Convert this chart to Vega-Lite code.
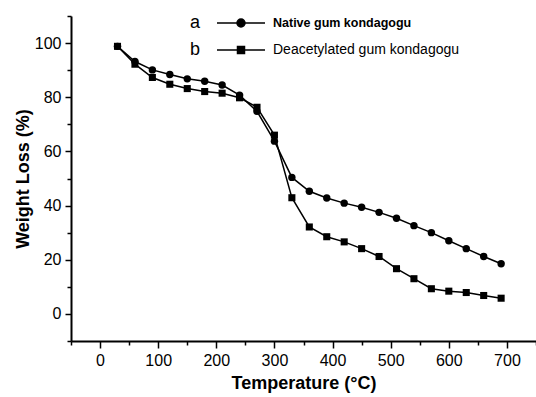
{
  "$schema": "https://vega.github.io/schema/vega-lite/v6.json",
  "width": 465,
  "height": 325,
  "autosize": {"type": "none"},
  "padding": {"left": 71, "top": 16, "right": 0, "bottom": 56},
  "background": "white",
  "config": {
    "view": {"stroke": null},
    "font": "Liberation Sans",
    "axis": {"grid": false, "domainColor": "black", "domainWidth": 2, "tickColor": "black", "tickWidth": 1.5, "labelColor": "black", "titleColor": "black", "labelFont": "Liberation Sans", "titleFont": "Liberation Sans"}
  },
  "data": {"values": [
    {"temperature": 30, "series": "Native gum kondagogu", "weight": 98.8},
    {"temperature": 60, "series": "Native gum kondagogu", "weight": 93.2},
    {"temperature": 90, "series": "Native gum kondagogu", "weight": 90.1},
    {"temperature": 120, "series": "Native gum kondagogu", "weight": 88.4},
    {"temperature": 150, "series": "Native gum kondagogu", "weight": 86.8},
    {"temperature": 180, "series": "Native gum kondagogu", "weight": 85.9},
    {"temperature": 210, "series": "Native gum kondagogu", "weight": 84.5},
    {"temperature": 240, "series": "Native gum kondagogu", "weight": 80.8},
    {"temperature": 270, "series": "Native gum kondagogu", "weight": 74.8},
    {"temperature": 300, "series": "Native gum kondagogu", "weight": 63.8},
    {"temperature": 330, "series": "Native gum kondagogu", "weight": 50.4},
    {"temperature": 360, "series": "Native gum kondagogu", "weight": 45.3},
    {"temperature": 390, "series": "Native gum kondagogu", "weight": 42.8},
    {"temperature": 420, "series": "Native gum kondagogu", "weight": 40.9},
    {"temperature": 450, "series": "Native gum kondagogu", "weight": 39.4},
    {"temperature": 480, "series": "Native gum kondagogu", "weight": 37.5},
    {"temperature": 510, "series": "Native gum kondagogu", "weight": 35.3},
    {"temperature": 540, "series": "Native gum kondagogu", "weight": 32.6},
    {"temperature": 570, "series": "Native gum kondagogu", "weight": 30.0},
    {"temperature": 600, "series": "Native gum kondagogu", "weight": 27.0},
    {"temperature": 630, "series": "Native gum kondagogu", "weight": 24.1},
    {"temperature": 660, "series": "Native gum kondagogu", "weight": 21.2},
    {"temperature": 690, "series": "Native gum kondagogu", "weight": 18.5},
    {"temperature": 30, "series": "Deacetylated gum kondagogu", "weight": 98.8},
    {"temperature": 60, "series": "Deacetylated gum kondagogu", "weight": 92.2},
    {"temperature": 90, "series": "Deacetylated gum kondagogu", "weight": 87.3},
    {"temperature": 120, "series": "Deacetylated gum kondagogu", "weight": 84.8},
    {"temperature": 150, "series": "Deacetylated gum kondagogu", "weight": 83.2},
    {"temperature": 180, "series": "Deacetylated gum kondagogu", "weight": 82.1},
    {"temperature": 210, "series": "Deacetylated gum kondagogu", "weight": 81.5},
    {"temperature": 240, "series": "Deacetylated gum kondagogu", "weight": 79.8},
    {"temperature": 270, "series": "Deacetylated gum kondagogu", "weight": 76.3},
    {"temperature": 300, "series": "Deacetylated gum kondagogu", "weight": 66.0},
    {"temperature": 330, "series": "Deacetylated gum kondagogu", "weight": 42.9},
    {"temperature": 360, "series": "Deacetylated gum kondagogu", "weight": 32.1},
    {"temperature": 390, "series": "Deacetylated gum kondagogu", "weight": 28.5},
    {"temperature": 420, "series": "Deacetylated gum kondagogu", "weight": 26.6},
    {"temperature": 450, "series": "Deacetylated gum kondagogu", "weight": 24.1},
    {"temperature": 480, "series": "Deacetylated gum kondagogu", "weight": 21.2},
    {"temperature": 510, "series": "Deacetylated gum kondagogu", "weight": 16.7},
    {"temperature": 540, "series": "Deacetylated gum kondagogu", "weight": 13.0},
    {"temperature": 570, "series": "Deacetylated gum kondagogu", "weight": 9.3},
    {"temperature": 600, "series": "Deacetylated gum kondagogu", "weight": 8.4},
    {"temperature": 630, "series": "Deacetylated gum kondagogu", "weight": 7.9},
    {"temperature": 660, "series": "Deacetylated gum kondagogu", "weight": 6.8},
    {"temperature": 690, "series": "Deacetylated gum kondagogu", "weight": 5.8}
  ]},
  "resolve": {"axis": {"x": "independent", "y": "independent"}},
  "layer": [
    {
      "mark": {"type": "line", "strokeWidth": 1.5},
      "encoding": {
        "x": {"field": "temperature", "type": "quantitative", "scale": {"domain": [-50, 750], "nice": false, "zero": false},
          "axis": {"orient": "bottom", "values": [0, 100, 200, 300, 400, 500, 600, 700], "tickSize": 7, "labelFontSize": 16, "labelPadding": 4, "title": "Temperature (°C)", "titleFontSize": 18, "titleFontWeight": "bold", "titlePadding": 6}},
        "y": {"field": "weight", "type": "quantitative", "scale": {"domain": [-10, 110], "nice": false, "zero": false},
          "axis": {"orient": "left", "values": [0, 20, 40, 60, 80, 100], "tickSize": 6, "labelFontSize": 16, "labelPadding": 4, "title": "Weight Loss (%)", "titleFontSize": 18, "titleFontWeight": "bold", "titlePadding": 2}},
        "color": {"field": "series", "type": "nominal",
          "scale": {"domain": ["Native gum kondagogu", "Deacetylated gum kondagogu"], "range": ["black", "black"]},
          "legend": {
            "orient": "none", "legendX": 119, "legendY": 0,
            "title": ["a", "b"], "titleOrient": "left", "titleFontSize": 18, "titleFontWeight": "normal", "titleLineHeight": 27, "titlePadding": 33, "titleColor": "black", "titleFont": "Liberation Sans",
            "labelFontSize": {"expr": "datum.value == 'Native gum kondagogu' ? 12.5 : 14"},
            "labelFontWeight": {"expr": "datum.value == 'Native gum kondagogu' ? 'bold' : 'normal'"},
            "labelOffset": 25, "labelColor": "black", "labelFont": "Liberation Sans", "labelLimit": 400,
            "symbolSize": 100, "rowPadding": 13, "padding": 0,
            "symbolType": {"expr": "datum.value == 'Native gum kondagogu' ? 'M-4.8,0H4.8M0.8,0A0.8,0.8,0,1,1,-0.8,0A0.8,0.8,0,1,1,0.8,0Z' : 'M-4.8,0H4.8M-0.7,-0.7H0.7V0.7H-0.7Z'"},
            "symbolStrokeWidth": 1.5, "symbolFillColor": "black", "symbolStrokeColor": "black", "symbolOpacity": 1
          }
        }
      }
    },
    {
      "transform": [{"filter": "datum.series == 'Native gum kondagogu'"}],
      "mark": {"type": "point", "filled": true, "shape": "circle", "color": "black", "size": 55, "opacity": 1},
      "encoding": {
        "x": {"field": "temperature", "type": "quantitative",
          "axis": {"orient": "bottom", "values": [-50, 50, 150, 250, 350, 450, 550, 650, 750], "tickSize": 4, "labels": false, "domain": false, "title": null}},
        "y": {"field": "weight", "type": "quantitative",
          "axis": {"orient": "left", "values": [-10, 10, 30, 50, 70, 90, 110], "tickSize": 4, "labels": false, "domain": false, "title": null}}
      }
    },
    {
      "transform": [{"filter": "datum.series == 'Deacetylated gum kondagogu'"}],
      "mark": {"type": "point", "filled": true, "shape": "square", "color": "black", "size": 50, "opacity": 1},
      "encoding": {
        "x": {"field": "temperature", "type": "quantitative", "axis": null},
        "y": {"field": "weight", "type": "quantitative", "axis": null}
      }
    }
  ]
}
